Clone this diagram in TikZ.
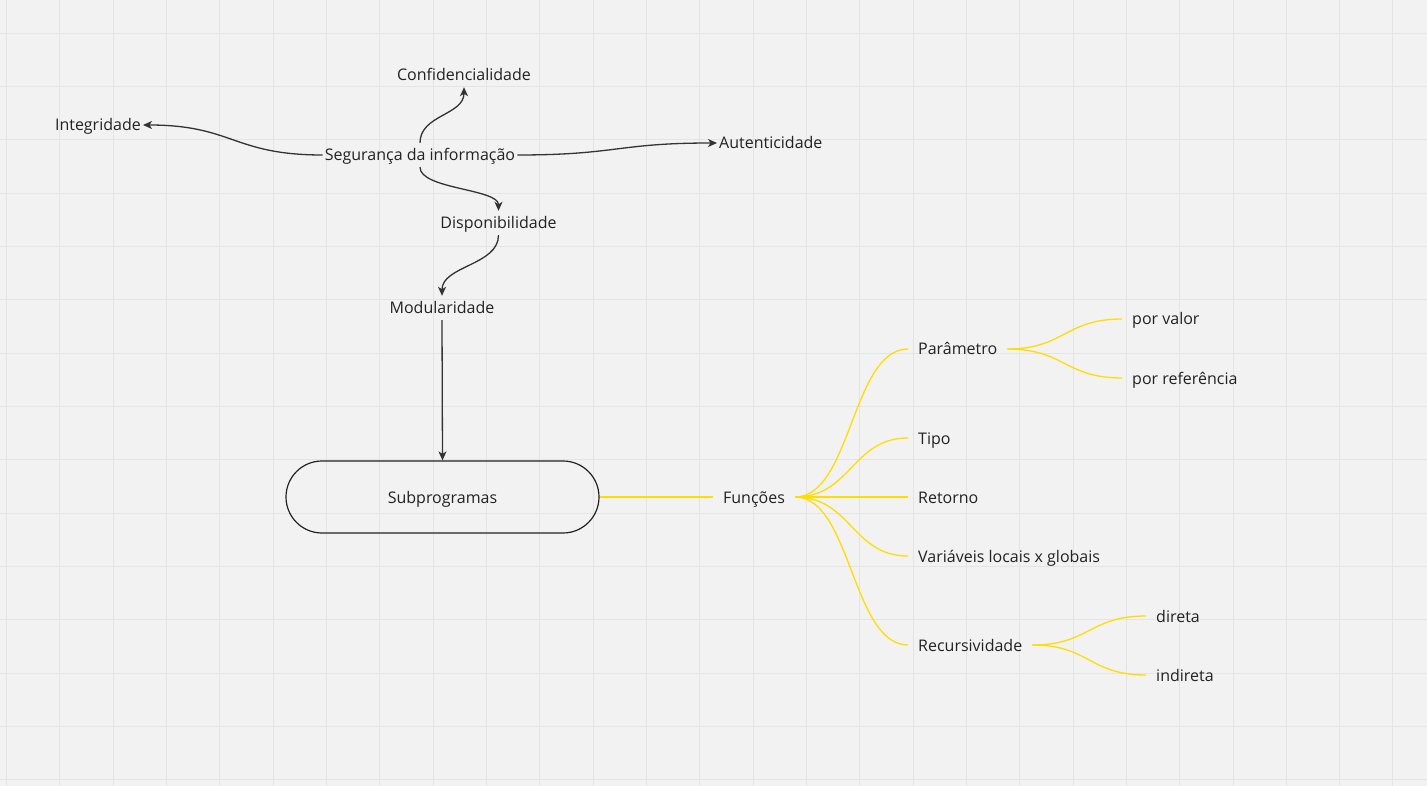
\documentclass[tikz,border=0pt]{standalone}
\usepackage{fontspec}
\setmainfont{Open Sans}
\usetikzlibrary{arrows.meta,calc}
\definecolor{bg}{HTML}{F2F2F2}
\definecolor{gridc}{HTML}{E4E4E4}
\definecolor{ink}{HTML}{222222}
\definecolor{linec}{HTML}{333333}
\definecolor{yel}{HTML}{FFDD00}
\begin{document}
\begin{tikzpicture}[x=1pt,y=-1pt,
  lbl/.style={font=\fontsize{16}{19}\selectfont, text=ink, inner xsep=2pt, inner ysep=0pt, minimum height=24pt, text height=12pt, text depth=0pt},
  ylbl/.style={lbl, inner xsep=10pt},
  darrow/.style={draw=linec, line width=1.3pt, -{Stealth[length=9pt,width=8pt,inset=2.5pt]}},
  yline/.style={draw=yel, line width=1.3pt},
]
\fill[bg] (0,0) rectangle (1427,786);
\useasboundingbox (0,0) rectangle (1427,786);
\foreach \i in {0,...,26} \draw[gridc, line width=1pt] ({6.4+53.33*\i},0) -- ({6.4+53.33*\i},786);
\foreach \j in {0,...,14} \draw[gridc, line width=1pt] (0,{33.3+53.33*\j}) -- (1427,{33.3+53.33*\j});

\node[lbl] (seg) at (420,155) {Segurança da informação};
\node[lbl] (conf) at (464,75) {Confidencialidade};
\node[lbl,anchor=east] (integ) at (143,125) {Integridade};
\node[lbl,anchor=west] (aut) at (717,143) {Autenticidade};
\node[lbl] (disp) at (498.5,223) {Disponibilidade};
\node[lbl] (mod) at (442,308) {Modularidade};
\node[lbl, draw=ink, line width=1.2pt, rounded corners=36pt, minimum width=313pt, minimum height=72pt, inner sep=0pt] (sub) at (442.5,497) {Subprogramas};

\node[ylbl] (fun) at (754,497) {Funções};
\node[ylbl,anchor=west] (par) at (908,349) {Parâmetro};
\node[ylbl,anchor=west] (tipo) at (908,438) {Tipo};
\node[ylbl,anchor=west] (ret) at (908,497) {Retorno};
\node[ylbl,anchor=west] (var) at (908,556) {Variáveis locais x globais};
\node[ylbl,anchor=west] (rec) at (908,645) {Recursividade};
\node[ylbl,anchor=west] (val) at (1122,319) {por valor};
\node[ylbl,anchor=west] (ref) at (1122,378) {por referência};
\node[ylbl,anchor=west] (dir) at (1146,616) {direta};
\node[ylbl,anchor=west] (ind) at (1146,675) {indireta};

\draw[darrow] (seg.north) .. controls +(0,-28) and +(0,28) .. (conf.south);
\draw[darrow] (seg.west) .. controls +(-90,0) and +(90,0) .. (integ.east);
\draw[darrow] (seg.east) .. controls +(100,0) and +(-100,0) .. (aut.west);
\draw[darrow] (seg.south) .. controls +(0,22) and +(0,-22) .. (disp.north);
\draw[darrow] (disp.south) .. controls +(0,30) and +(0,-30) .. (mod.north);
\draw[darrow] (mod.south) -- (sub.north);

\draw[yline] (sub.east) -- (fun.west);
\foreach \c in {par,tipo,ret,var,rec}
  \draw[yline] (fun.east) .. controls +(56,0) and +(-56,0) .. (\c.west);
\foreach \c in {val,ref}
  \draw[yline] (par.east) .. controls +(57,0) and +(-57,0) .. (\c.west);
\foreach \c in {dir,ind}
  \draw[yline] (rec.east) .. controls +(57,0) and +(-57,0) .. (\c.west);
\end{tikzpicture}
\end{document}
